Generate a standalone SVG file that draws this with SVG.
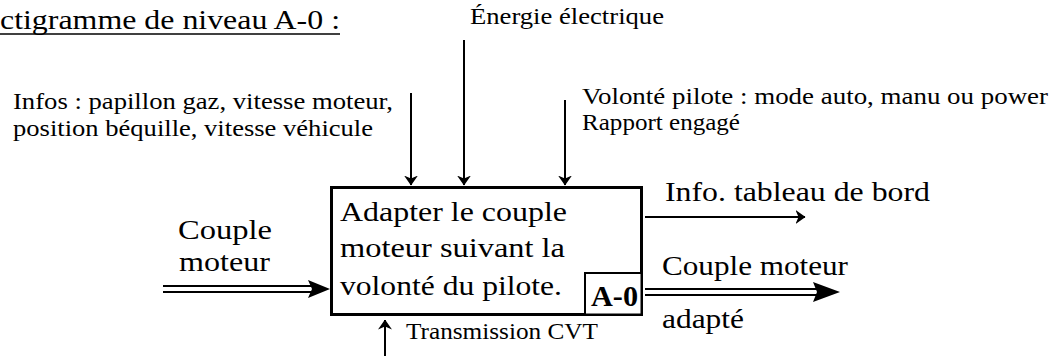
<svg xmlns="http://www.w3.org/2000/svg" width="1056" height="356" viewBox="0 0 1056 356">
<style>
text{font-family:"Liberation Serif","DejaVu Serif",serif;fill:#000}
.s{font-size:24px}
.m{font-size:27px}
.b{font-size:28px}
.ln{stroke:#000;stroke-width:2;fill:none}
.dl{stroke:#000;stroke-width:2;fill:none}
</style>
<defs>
<marker id="ah" viewBox="0 0 10 14" refX="9.5" refY="7" markerWidth="10" markerHeight="14" markerUnits="userSpaceOnUse" orient="auto">
<path d="M0,0 L10,7 L0,14 L3,7 Z" fill="#000"/>
</marker>
</defs>
<rect width="1056" height="356" fill="#fff"/>
<g id="title">
<text x="0" y="29" style="font-size:27px" textLength="340" lengthAdjust="spacingAndGlyphs">ctigramme de niveau A-0 :</text>
<line x1="0" y1="34" x2="340" y2="34" stroke="#000" stroke-width="1.5"/>
</g>
<g id="connectors">
<line class="ln" x1="411" y1="93" x2="411" y2="185" marker-end="url(#ah)"/>
<line class="ln" x1="464" y1="40" x2="464" y2="185" marker-end="url(#ah)"/>
<line class="ln" x1="565" y1="100" x2="565" y2="185" marker-end="url(#ah)"/>
<line class="ln" x1="385" y1="356" x2="385" y2="320" marker-end="url(#ah)"/>
<line class="ln" x1="645" y1="217" x2="805" y2="217" marker-end="url(#ah)"/>
<g id="in-double">
<line class="dl" x1="163" y1="286" x2="314" y2="286"/>
<line class="dl" x1="163" y1="292" x2="314" y2="292"/>
<path d="M308,280 L330,289 L308,298 L312,289 Z" fill="#000"/>
</g>
<g id="out-double">
<line class="dl" x1="645" y1="289" x2="818" y2="289"/>
<line class="dl" x1="645" y1="295" x2="818" y2="295"/>
<path d="M813,282 L840,292 L813,302 L817,292 Z" fill="#000"/>
</g>
</g>
<g id="node-A0">
<rect x="331.5" y="187.5" width="310" height="127" fill="#fff" stroke="#000" stroke-width="3"/>
<text class="b" x="340" y="221" textLength="227" lengthAdjust="spacingAndGlyphs">Adapter le couple</text>
<text class="b" x="340" y="257" textLength="225" lengthAdjust="spacingAndGlyphs">moteur suivant la</text>
<text class="b" x="340" y="295" textLength="222" lengthAdjust="spacingAndGlyphs">volonté du pilote.</text>
<rect x="585" y="273" width="56.5" height="41.5" fill="#fff" stroke="#000" stroke-width="2"/>
<text x="591" y="306" style="font-size:30px;font-weight:bold" textLength="47" lengthAdjust="spacingAndGlyphs">A-0</text>
</g>
<g id="labels">
<text class="s" x="470" y="24" textLength="194" lengthAdjust="spacingAndGlyphs">Énergie électrique</text>
<text class="s" x="13" y="109" textLength="380" lengthAdjust="spacingAndGlyphs">Infos : papillon gaz, vitesse moteur,</text>
<text class="s" x="13" y="136" textLength="360" lengthAdjust="spacingAndGlyphs">position béquille, vitesse véhicule</text>
<text class="s" x="582" y="104" textLength="466" lengthAdjust="spacingAndGlyphs">Volonté pilote : mode auto, manu ou power</text>
<text class="s" x="582" y="130" textLength="158" lengthAdjust="spacingAndGlyphs">Rapport engagé</text>
<text class="s" x="406" y="339" textLength="192" lengthAdjust="spacingAndGlyphs">Transmission CVT</text>
<text class="m" x="178" y="239" textLength="94" lengthAdjust="spacingAndGlyphs">Couple</text>
<text class="m" x="179" y="271" textLength="91" lengthAdjust="spacingAndGlyphs">moteur</text>
<text class="m" x="665" y="201" textLength="265" lengthAdjust="spacingAndGlyphs">Info. tableau de bord</text>
<text class="m" x="662" y="275" textLength="186" lengthAdjust="spacingAndGlyphs">Couple moteur</text>
<text class="m" x="662" y="328" textLength="82" lengthAdjust="spacingAndGlyphs">adapté</text>
</g>
</svg>
